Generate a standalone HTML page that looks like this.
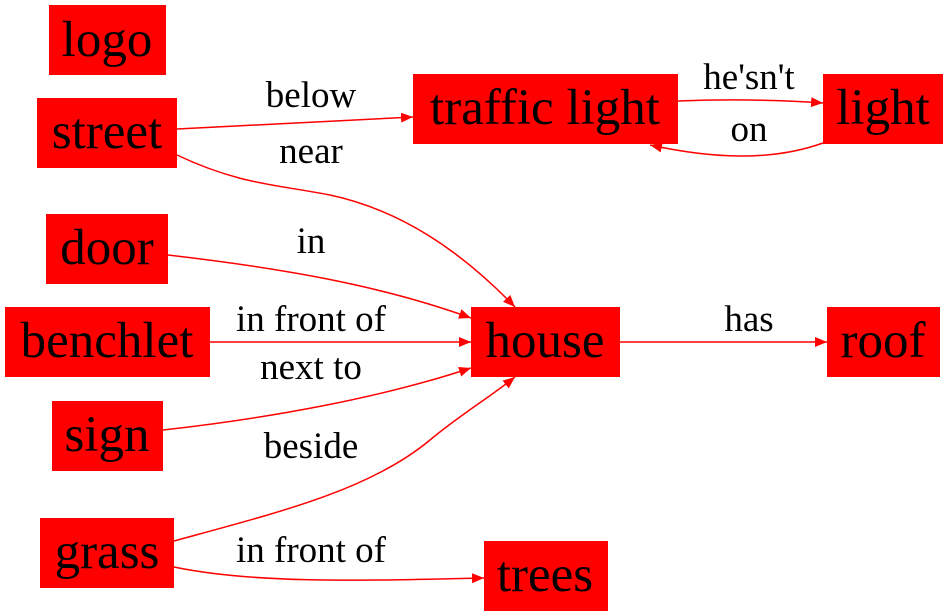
<!DOCTYPE html>
<html><head><meta charset="utf-8"><style>
html,body{margin:0;padding:0;background:#fff;}
svg{display:block;}
text{font-family:"Liberation Serif","DejaVu Serif","Times New Roman",serif;}
.n{font-size:51px;text-anchor:middle;fill:#000;}
.l{font-size:37px;text-anchor:middle;fill:#000;}
rect{fill:#f00;}
path.e{fill:none;stroke:#f00;stroke-width:1.5;}
</style></head><body>
<svg width="948" height="616" viewBox="0 0 948 616" font-family="Liberation Serif, serif">
<defs><marker id="a" markerWidth="12" markerHeight="10" refX="12" refY="5" orient="auto" markerUnits="userSpaceOnUse"><path d="M0,0 L12,5 L0,10 Z" fill="#f00"/></marker></defs>
<rect x="49" y="5" width="117" height="70"/><text class="n" x="107" y="56">logo</text>
<rect x="37" y="98" width="140" height="70"/><text class="n" x="107" y="148">street</text>
<rect x="413" y="74" width="265" height="70"/><text class="n" x="545" y="124">traffic light</text>
<rect x="823" y="74" width="120" height="70"/><text class="n" x="883" y="124">light</text>
<rect x="46" y="214" width="122" height="70"/><text class="n" x="107" y="264">door</text>
<rect x="5" y="307" width="205" height="70"/><text class="n" x="107" y="357">benchlet</text>
<rect x="471" y="307" width="149" height="70"/><text class="n" x="545" y="357">house</text>
<rect x="827" y="307" width="113" height="70"/><text class="n" x="883" y="357">roof</text>
<rect x="52" y="401" width="111" height="70"/><text class="n" x="107" y="451">sign</text>
<rect x="40" y="518" width="134" height="70"/><text class="n" x="107" y="568">grass</text>
<rect x="484" y="541" width="124" height="70"/><text class="n" x="545" y="591">trees</text>

<path class="e" marker-end="url(#a)" d="M177,129 L413,117"/>
<text class="l" x="311" y="107">below</text>
<path class="e" marker-end="url(#a)" d="M177,155 C240,185 280,185 330,195 C400,210 460,250 515,307"/>
<text class="l" x="311" y="163">near</text>
<path class="e" marker-end="url(#a)" d="M168,255 C280,268 380,285 471,318"/>
<text class="l" x="311" y="253">in</text>
<path class="e" marker-end="url(#a)" d="M210,342 L471,342"/>
<text class="l" x="311" y="331">in front of</text>
<path class="e" marker-end="url(#a)" d="M163,430 C270,418 380,398 471,368"/>
<text class="l" x="311" y="379">next to</text>
<path class="e" marker-end="url(#a)" d="M174,541 C280,512 370,490 430,440 C460,415 490,397 515,377"/>
<text class="l" x="311" y="458">beside</text>
<path class="e" marker-end="url(#a)" d="M174,567 C260,585 380,580 484,578"/>
<text class="l" x="311" y="562">in front of</text>
<path class="e" marker-end="url(#a)" d="M620,342 L827,342"/>
<text class="l" x="749" y="331">has</text>
<path class="e" marker-end="url(#a)" d="M678,101 C730,99 780,100 823,103"/>
<text class="l" x="749" y="89">he'sn't</text>
<path class="e" marker-end="url(#a)" d="M823,143 C770,162 710,158 650,145"/>
<text class="l" x="749" y="141">on</text>
</svg>
</body></html>
